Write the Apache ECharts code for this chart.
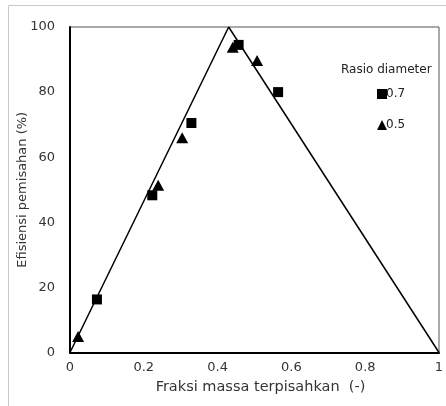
<!DOCTYPE html>
<html><head><meta charset="utf-8">
<script src="https://cdn.jsdelivr.net/npm/echarts@6/dist/echarts.min.js"></script>
<style>html,body{margin:0;padding:0;background:#fff}#c{width:446px;height:406px}</style>
</head><body><div id="c"></div>
<script>
const xTicks = [0, 0.2, 0.4, 0.6, 0.8, 1];
const yTicks = [0, 20, 40, 60, 80, 100];
const lineX = [0, 0.43, 1];
const lineY = [0, 100, 0];
const sqX = [0.073, 0.223, 0.329, 0.457, 0.564];
const sqY = [16.3, 48.3, 70.5, 94.5, 80];
const triX = [0.022, 0.239, 0.304, 0.441, 0.507];
const triY = [4.9, 51.4, 66, 93.8, 89.7];
const font = 'DejaVu Sans';
const chart = echarts.init(document.getElementById('c'));
chart.setOption({
  animation: false,
  graphic: [{type:'rect', shape:{x:8.5,y:5.5,width:460,height:420}, style:{fill:'none', stroke:'#c8c8c8', lineWidth:1}, z:-10}],
  grid: {left:70, right:7, top:27, bottom:53.5, show:true, borderColor:'#555', borderWidth:1, containLabel:false, outerBoundsMode:'none'},
  title: {text:'Rasio diameter', left:336, top:59, textStyle:{fontFamily:font, fontSize:12, fontWeight:'normal', color:'#222'}},
  legend: {orient:'vertical', left:372, top:83, itemGap:19, itemWidth:10, itemHeight:10,
    textStyle:{fontFamily:font, fontSize:12, color:'#222', padding:[0,0,0,-6]},
    data:[{name:'0.7', icon:'rect'},{name:'0.5', icon:'triangle'}]},
  xAxis: {type:'value', min:xTicks[0], max:xTicks[xTicks.length-1], interval:0.2,
    name:'Fraksi massa terpisahkan  (-)', nameLocation:'middle', nameGap:27, nameMoveOverlap:false,
    nameTextStyle:{fontFamily:font, fontSize:14.5, color:'#333', padding:[0,0,0,12]},
    axisLine:{show:true, lineStyle:{color:'#000', width:2}}, axisTick:{show:false}, splitLine:{show:false},
    axisLabel:{fontFamily:font, fontSize:13, color:'#333', margin:9}},
  yAxis: {type:'value', min:yTicks[0], max:yTicks[yTicks.length-1], interval:20,
    name:'Efisiensi pemisahan (%)', nameLocation:'middle', nameGap:41, nameMoveOverlap:false,
    nameTextStyle:{fontFamily:font, fontSize:13, color:'#333'},
    axisLine:{show:true, lineStyle:{color:'#000', width:2}}, axisTick:{show:false}, splitLine:{show:false},
    axisLabel:{fontFamily:font, fontSize:13, color:'#333', margin:15}},
  series: [
    {type:'line', data:lineX.map((x,i)=>[x,lineY[i]]), showSymbol:false, symbol:'none',
      lineStyle:{color:'#000', width:1.5}, z:1},
    {name:'0.7', type:'scatter', data:sqX.map((x,i)=>[x,sqY[i]]), symbol:'rect', symbolSize:10,
      itemStyle:{color:'#000', opacity:1}, z:3},
    {name:'0.5', type:'scatter', data:triX.map((x,i)=>[x,triY[i]]), symbol:'triangle', symbolSize:[12,11],
      itemStyle:{color:'#000', opacity:1}, z:3}
  ]
});
</script></body></html>
